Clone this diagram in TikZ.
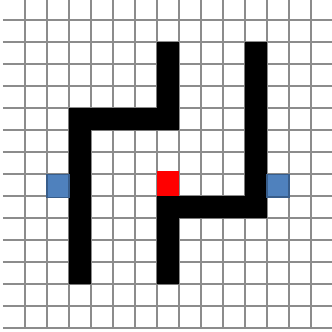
\documentclass[tikz,border=0pt]{standalone}
\usepackage{tikz}
\usepackage{xcolor}
\definecolor{gridGray}{HTML}{8C8C8C}
\definecolor{portBlue}{HTML}{4F81BD}
\definecolor{portEdge}{HTML}{385D8A}
\definecolor{startRed}{HTML}{FF0000}

\begin{document}
\begin{tikzpicture}[x=0.5cm, y=0.5cm]
  \useasboundingbox (-0.136,-0.136) rectangle (14.955,14.91);
  % Grid
  \foreach \i in {1,...,14}
    \draw[gridGray, line width=0.8pt] (\i,0) -- (\i,14.91);
  \foreach \j in {0,...,14}
    \draw[gridGray, line width=0.8pt] (0,\j) -- (14.955,\j);
  % Left wall
  \fill[black] (3,2) -- (4,2) -- (4,9) -- (8,9) -- (8,13) -- (7,13)
        -- (7,10) -- (3,10) -- cycle;
  % Right wall
  \fill[black] (7,2) -- (8,2) -- (8,5) -- (12,5) -- (12,13) -- (11,13)
        -- (11,6) -- (7,6) -- cycle;
  % Start cell
  \fill[startRed] (7.02,6) rectangle (8,7.12);
  % Ports
  \draw[fill=portBlue, draw=portEdge, line width=0.8pt]
        (2,5.93) rectangle (3,6.97);
  \draw[fill=portBlue, draw=portEdge, line width=0.8pt]
        (12,5.95) rectangle (13,6.97);
\end{tikzpicture}
\end{document}
